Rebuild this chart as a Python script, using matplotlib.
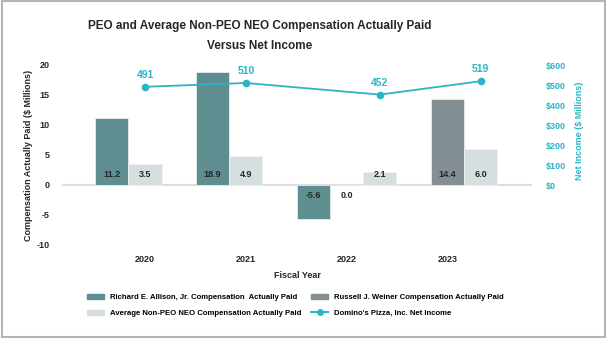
import numpy as np
import matplotlib.pyplot as plt
from matplotlib.patches import Rectangle, Patch
from matplotlib.lines import Line2D

plt.rcParams['font.family'] = ['Liberation Sans', 'DejaVu Sans']
plt.rcParams['font.weight'] = 'bold'
plt.rcParams['axes.labelweight'] = 'bold'
plt.rcParams['axes.unicode_minus'] = False

# data
years = ['2020', '2021', '2022', '2023']
allison = [11.2, 18.9, -5.6, None]      # Richard E. Allison, Jr.
weiner = [None, None, 0.0, 14.4]        # Russell J. Weiner
avg_neo = [3.5, 4.9, 2.1, 6.0]          # Average Non-PEO NEO
net_income = [491, 510, 452, 519]       # Domino's net income ($M)

c_allison = '#5e8e90'
c_weiner = '#848f94'
c_avg = '#d5dfe0'
c_line = '#2db4c4'
c_text = '#262626'

fig = plt.figure(figsize=(6.09, 3.38), dpi=100)
W, H = 609, 338
ax = fig.add_axes([62 / W, 1 - 245 / H, (532 - 62) / W, (245 - 65) / H])
ax2 = ax.twinx()

w = 0.33
x = np.arange(len(years))

# slot positions: allison -1, weiner 0, avg goes to 0 or +1 depending on weiner
avg_pos = []
for i in range(len(years)):
    if allison[i] is not None:
        v = allison[i]
        ax.bar(x[i] - w, v, w, color=c_allison, edgecolor='#e6ecec', linewidth=0.6, zorder=2)
        ax.text(x[i] - w, 1.8 if v > 0 else -1.8, f'{v:.1f}', ha='center', va='center',
                fontsize=6.5, color=c_text, zorder=4)
    off = 0
    if weiner[i] is not None:
        v = weiner[i]
        ax.bar(x[i], v, w, color=c_weiner, edgecolor='#e6ecec', linewidth=0.6, zorder=2)
        ax.text(x[i], 1.8 if v > 0 else -1.8, f'{v:.1f}', ha='center', va='center',
                fontsize=6.5, color=c_text, zorder=4)
        off = w
    v = avg_neo[i]
    ax.bar(x[i] + off, v, w, color=c_avg, edgecolor='#eef2f2', linewidth=0.6, zorder=2)
    ax.text(x[i] + off, 1.8, f'{v:.1f}', ha='center', va='center',
            fontsize=6.5, color=c_text, zorder=4)
    avg_pos.append(x[i] + off)

ax.axhline(0, color='#dddddd', linewidth=1.5, zorder=1)

ax.set_xlim(-0.825, 3.84)
ax.set_ylim(-10, 20)
ax.set_yticks(range(-10, 21, 5))
ax.set_xticks(x)
ax.set_xticklabels(years)
ax.tick_params(axis='both', length=0, labelsize=6.5, colors=c_text)
ax.tick_params(axis='y', pad=9)
ax.tick_params(axis='x', pad=7)
ax.set_xlabel('Fiscal Year', fontsize=6.5, color=c_text, labelpad=5)
ax.set_ylabel('Compensation Actually Paid ($ Millions)', fontsize=6.5, color=c_text)
ax.yaxis.set_label_coords(-0.062, 0.5)

ax2.plot(avg_pos, net_income, color=c_line, linewidth=1.3, marker='o', markersize=4.5, zorder=5)
for px, v in zip(avg_pos, net_income):
    ax2.annotate(str(v), (px, v), xytext=(0, 5), textcoords='offset points',
                 ha='center', va='bottom', fontsize=7.5, color=c_line)
ax2.set_ylim(-300, 600)
ax2.set_yticks(range(0, 601, 100))
ax2.set_yticklabels([f'${t}' for t in range(0, 601, 100)])
ax2.tick_params(axis='y', length=0, labelsize=6.5, colors=c_line, pad=10)
ax2.set_ylabel('Net Income ($ Millions)', fontsize=6.5, color=c_line, rotation=90)
ax2.yaxis.set_label_coords(1.091, 0.633)

for a in (ax, ax2):
    for s in a.spines.values():
        s.set_visible(False)

fig.text(260 / W, 1 - 26 / H, 'PEO and Average Non-PEO NEO Compensation Actually Paid',
         ha='center', va='center', fontsize=8.5, color=c_text)
fig.text(260 / W, 1 - 46 / H, 'Versus Net Income',
         ha='center', va='center', fontsize=8.5, color=c_text)

handles = [
    Patch(color=c_allison, label='Richard E. Allison, Jr. Compensation  Actually Paid'),
    Patch(color=c_avg, label='Average Non-PEO NEO Compensation Actually Paid'),
    Patch(color=c_weiner, label='Russell J. Weiner Compensation Actually Paid'),
    Line2D([], [], color=c_line, marker='o', markersize=4, linewidth=1.5,
           label="Domino's Pizza, Inc. Net Income"),
]
fig.legend(handles=handles, ncol=2, loc='upper left', bbox_to_anchor=(80 / W, 1 - 287 / H),
           frameon=False, fontsize=5.6, handlelength=2.2, handleheight=0.6,
           handletextpad=0.8, columnspacing=1.2, labelspacing=1.1)

fig.add_artist(Rectangle((2 / W, 1 / H), (605 - 2) / W, 1 - 2 / H, transform=fig.transFigure,
                         fill=False, edgecolor='#b5b5b5', linewidth=1.5))

fig.savefig('out.png', dpi=100)
